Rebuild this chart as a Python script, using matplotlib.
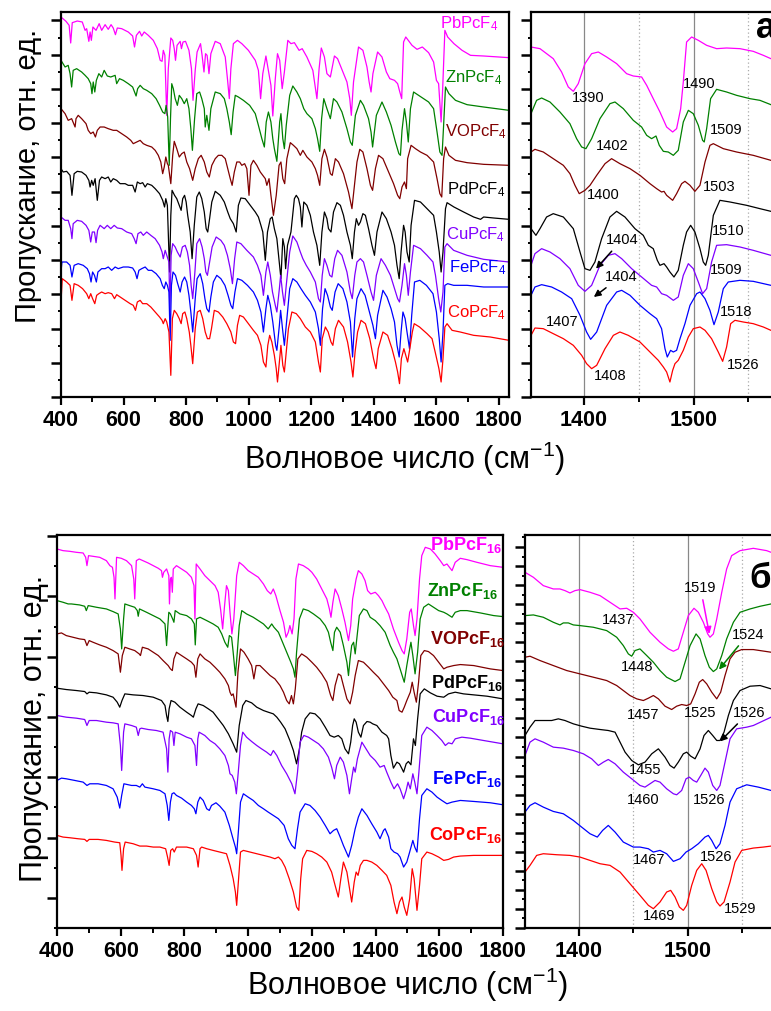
"""IR spectra of MPcF4 / MPcF16 films: full range and zoom on 1350-1580 cm-1"""

import matplotlib
matplotlib.use('Agg')
import matplotlib.pyplot as plt
from matplotlib import font_manager
from matplotlib.ticker import MultipleLocator, NullFormatter

plt.rcParams['font.family'] = ['Liberation Sans', 'DejaVu Sans']
plt.rcParams['mathtext.fontset'] = 'custom'
plt.rcParams['mathtext.rm'] = 'Liberation Sans'
plt.rcParams['mathtext.it'] = 'Liberation Sans:italic'
plt.rcParams['mathtext.bf'] = 'Liberation Sans:bold'

# series order: Pb, Zn, VO, Pd, Cu, Fe, Co
names = ['PbPcF', 'ZnPcF', 'VOPcF', 'PdPcF', 'CuPcF', 'FePcF', 'CoPcF']
colors = ['#FF00FF', '#008000', '#800000', '#000000', '#8000FF', '#0000FF', '#FF0000']

# ---------------- MPcF4, 400-1830 cm-1 (wavenumber, transmittance a.u.) ----------------
pb4 = [(400,114.0),(416,112.7),(426,111.5),(431,106.2),(436,112.3),(452,112.8),(468,112.5),(477,110.0),(482,110.5),(489,106.7),(493,109.5),(497,107.0),(502,111.0),(512,110.0),(522,112.0),(530,110.0),(541,111.7),(551,110.3),(560,111.7),(567,110.7),(574,108.7),(580,110.7),(594,110.5),(615,109.5),(629,108.3),(635,105.0),(641,108.5),(651,109.7),(658,108.3),(666,109.5),(679,108.5),(695,107.0),(708,104.5),(717,101.0),(723,100.7),(727,104.0),(732,102.5),(738,84.5),(743,98.5),(751,107.7),(757,107.0),(762,104.5),(766,101.0),(771,105.5),(781,106.7),(785,104.5),(790,106.5),(798,106.7),(809,104.0),(817,98.5),(822,89.0),(829,98.0),(835,103.5),(846,106.0),(851,102.5),(857,97.5),(862,103.0),(867,102.5),(873,97.0),(879,103.0),(893,106.7),(909,106.0),(925,102.0),(932,95.5),(938,89.5),(943,98.5),(951,106.0),(964,107.0),(978,106.0),(999,104.0),(1021,101.0),(1031,98.0),(1038,89.5),(1045,97.0),(1055,102.3),(1062,98.5),(1071,93.5),(1077,84.3),(1085,95.5),(1092,103.0),(1099,101.0),(1107,92.5),(1114,97.5),(1125,107.0),(1135,106.0),(1146,106.3),(1161,104.0),(1171,104.5),(1186,102.0),(1205,98.0),(1212,93.5),(1218,89.5),(1225,98.5),(1232,104.7),(1242,102.0),(1250,97.0),(1261,96.0),(1274,102.3),(1284,101.5),(1301,97.5),(1314,94.5),(1323,89.5),(1328,84.5),(1335,94.5),(1351,105.0),(1365,104.0),(1378,99.0),(1385,94.5),(1391,91.5),(1397,97.0),(1412,103.5),(1426,102.0),(1440,97.5),(1451,95.5),(1466,95.0),(1476,94.0),(1483,91.5),(1489,89.5),(1495,106.5),(1502,108.0),(1522,105.5),(1538,104.3),(1555,105.0),(1575,103.3),(1591,100.5),(1600,95.0),(1607,94.0),(1615,82.5),(1620,92.5),(1627,110.0),(1636,108.0),(1656,106.0),(1682,104.0),(1709,102.5),(1751,102.3),(1832,101.8)]
zn4 = [(400,101.0),(413,99.0),(423,99.5),(429,97.0),(434,93.0),(439,98.0),(450,98.5),(466,97.5),(477,96.5),(487,95.5),(495,94.0),(499,91.0),(503,94.5),(508,91.5),(513,95.0),(521,97.0),(530,96.0),(538,98.0),(548,96.3),(559,96.0),(573,96.5),(578,94.0),(587,95.5),(599,95.0),(615,94.0),(629,93.0),(640,90.3),(645,92.5),(653,93.5),(663,92.5),(674,92.0),(690,91.0),(704,89.5),(715,87.5),(725,85.5),(732,85.0),(736,87.5),(741,84.0),(746,69.5),(750,83.5),(754,94.0),(759,92.5),(765,89.5),(772,87.5),(778,90.5),(786,89.5),(794,88.0),(802,89.5),(809,86.5),(815,80.5),(820,74.0),(827,83.5),(834,91.0),(843,91.5),(850,89.5),(858,86.5),(861,81.0),(866,84.5),(873,80.0),(879,86.5),(893,91.5),(909,91.0),(922,89.5),(930,86.5),(938,82.5),(944,78.7),(950,85.5),(957,90.5),(967,90.0),(983,89.0),(1003,87.5),(1021,85.0),(1031,81.5),(1042,77.5),(1050,75.0),(1056,82.5),(1063,85.5),(1071,82.5),(1077,77.5),(1082,74.5),(1090,70.7),(1099,82.5),(1103,85.0),(1109,77.5),(1114,74.5),(1120,81.5),(1131,90.5),(1141,93.3),(1154,91.5),(1165,89.5),(1176,86.5),(1186,85.0),(1202,83.5),(1213,80.5),(1220,77.5),(1227,73.7),(1233,83.5),(1240,89.5),(1250,86.5),(1261,83.5),(1271,89.5),(1282,88.5),(1298,85.5),(1314,80.5),(1325,76.5),(1331,75.5),(1341,84.5),(1357,89.0),(1367,87.5),(1383,83.5),(1391,79.5),(1396,75.0),(1408,84.5),(1426,88.5),(1440,85.5),(1455,81.5),(1469,76.5),(1480,73.0),(1485,72.5),(1490,80.0),(1498,86.5),(1504,82.5),(1510,76.5),(1517,86.5),(1527,91.5),(1543,90.5),(1559,89.5),(1575,88.5),(1591,86.5),(1602,79.5),(1611,73.5),(1618,72.5),(1623,81.5),(1629,93.0),(1640,91.0),(1661,89.0),(1698,87.7),(1751,87.0),(1832,86.0)]
vo4 = [(400,86.5),(413,85.0),(423,83.0),(434,83.5),(445,81.0),(448,83.5),(455,84.5),(466,83.5),(480,82.0),(487,80.0),(495,79.0),(503,79.5),(510,78.0),(516,80.0),(525,81.0),(538,81.0),(551,80.5),(567,80.0),(578,80.0),(594,79.0),(610,78.0),(623,77.0),(631,76.0),(642,76.5),(653,77.0),(663,76.0),(674,75.5),(690,75.0),(701,74.0),(711,72.5),(719,70.5),(725,67.0),(730,69.0),(735,72.0),(740,70.0),(743,69.5),(751,64.0),(757,72.5),(762,76.7),(770,74.5),(778,72.0),(786,73.0),(794,73.5),(802,70.5),(811,68.5),(821,65.0),(829,68.5),(839,71.5),(848,72.5),(858,70.5),(866,67.5),(874,66.0),(882,69.5),(893,71.5),(903,72.5),(914,72.5),(925,71.5),(933,68.5),(941,65.5),(947,63.5),(954,67.5),(962,70.5),(971,70.5),(978,69.5),(987,70.0),(994,68.5),(1001,60.5),(1007,69.5),(1015,71.0),(1026,69.5),(1037,67.5),(1053,65.5),(1058,63.5),(1065,65.5),(1071,60.5),(1079,54.5),(1088,60.5),(1097,69.5),(1103,70.5),(1109,65.5),(1115,64.0),(1122,71.5),(1133,76.3),(1143,75.5),(1154,74.5),(1165,72.5),(1173,74.0),(1186,72.0),(1202,70.5),(1213,68.5),(1220,66.5),(1227,63.5),(1234,71.5),(1242,74.3),(1250,72.0),(1261,67.0),(1267,66.5),(1277,71.5),(1287,70.5),(1303,67.0),(1319,61.5),(1330,56.5),(1338,63.5),(1346,70.5),(1355,74.3),(1365,73.5),(1378,68.5),(1389,63.5),(1396,62.0),(1405,68.5),(1415,72.5),(1429,71.5),(1447,67.5),(1463,64.0),(1476,60.5),(1483,59.5),(1490,63.0),(1498,64.5),(1504,62.5),(1508,71.5),(1519,75.5),(1533,74.5),(1549,73.5),(1570,72.5),(1591,70.5),(1602,65.5),(1611,61.0),(1617,60.0),(1623,71.5),(1629,75.0),(1640,72.5),(1661,71.0),(1698,70.3),(1751,69.8),(1832,69.5)]
pd4 = [(400,68.5),(407,67.5),(418,67.7),(429,66.5),(435,60.5),(442,67.0),(452,67.7),(466,67.5),(480,66.5),(489,65.0),(493,63.0),(498,65.0),(503,63.5),(509,65.5),(516,59.0),(523,65.0),(530,66.0),(541,65.5),(551,66.0),(559,64.5),(567,65.5),(578,65.0),(589,64.0),(605,64.0),(615,63.5),(629,63.5),(637,61.5),(644,64.5),(653,64.0),(661,64.3),(669,63.0),(676,64.0),(690,63.5),(701,62.5),(715,61.0),(725,59.0),(731,57.0),(735,59.5),(740,57.5),(747,37.5),(751,54.5),(755,62.0),(763,60.5),(770,59.5),(778,57.5),(784,56.0),(789,59.5),(795,60.5),(800,58.5),(805,54.5),(813,49.5),(819,41.5),(826,51.5),(834,60.0),(842,61.5),(850,59.5),(858,55.5),(864,50.5),(869,49.5),(875,53.5),(882,58.5),(893,61.7),(909,60.5),(922,58.5),(933,55.5),(941,53.5),(951,52.0),(960,49.5),(967,57.5),(975,59.7),(989,59.5),(1005,57.5),(1021,55.5),(1031,54.0),(1039,51.5),(1045,49.5),(1053,41.0),(1060,49.5),(1069,53.5),(1075,54.0),(1082,50.5),(1090,47.5),(1097,41.0),(1103,35.5),(1109,47.5),(1114,45.0),(1118,38.5),(1124,45.5),(1135,49.5),(1146,59.5),(1152,60.5),(1159,59.5),(1165,57.0),(1170,51.0),(1176,58.5),(1186,57.5),(1197,54.5),(1207,49.5),(1218,45.5),(1227,39.5),(1234,49.5),(1242,55.5),(1250,53.5),(1255,50.5),(1263,49.5),(1271,55.5),(1282,58.3),(1293,57.5),(1303,54.5),(1314,49.5),(1325,45.5),(1331,41.5),(1338,49.5),(1344,53.5),(1351,51.5),(1357,52.5),(1365,55.0),(1373,54.5),(1383,50.5),(1394,45.5),(1402,42.5),(1410,49.5),(1426,55.5),(1440,53.5),(1455,49.5),(1466,45.5),(1474,39.5),(1481,35.5),(1487,43.5),(1495,51.5),(1500,49.5),(1506,43.5),(1513,40.5),(1519,51.5),(1530,59.0),(1549,58.5),(1570,56.5),(1591,54.5),(1600,49.5),(1609,43.5),(1615,37.5),(1621,43.5),(1629,56.5),(1634,58.3),(1656,57.0),(1687,55.5),(1719,54.0),(1741,53.3),(1751,54.0),(1783,53.7),(1832,53.3)]
cu4 = [(400,54.0),(413,53.0),(423,53.0),(431,50.5),(435,47.5),(439,52.0),(452,53.0),(466,52.7),(480,51.5),(489,50.0),(495,46.5),(500,49.5),(507,49.5),(512,46.3),(517,50.0),(525,51.5),(538,50.5),(548,51.5),(559,50.5),(570,51.5),(580,50.7),(594,50.5),(610,49.5),(626,49.0),(634,47.5),(640,46.0),(646,49.0),(655,49.5),(663,48.5),(674,49.5),(687,48.5),(701,47.5),(715,45.5),(723,43.5),(727,41.5),(733,44.0),(738,42.5),(745,40.5),(748,25.5),(752,42.5),(757,46.0),(765,45.0),(772,43.5),(781,42.0),(788,45.0),(797,45.5),(804,43.5),(811,39.5),(816,33.5),(821,29.5),(828,37.5),(834,46.0),(843,47.5),(851,45.0),(858,41.5),(863,37.5),(868,36.5),(875,40.5),(883,45.0),(896,48.0),(911,47.0),(922,45.5),(932,42.5),(941,38.5),(948,34.0),(955,41.5),(962,46.5),(975,46.0),(994,44.0),(1015,42.0),(1028,39.5),(1039,36.5),(1047,30.5),(1055,37.5),(1061,40.5),(1069,36.5),(1076,31.5),(1085,27.5),(1090,25.5),(1098,32.5),(1102,36.5),(1108,31.5),(1114,27.5),(1120,33.5),(1131,43.5),(1141,48.3),(1154,46.5),(1165,43.5),(1173,41.5),(1184,39.5),(1197,37.5),(1213,34.5),(1223,29.5),(1229,28.5),(1235,36.5),(1242,41.5),(1250,39.5),(1259,36.5),(1266,36.0),(1275,41.5),(1284,44.0),(1298,42.5),(1314,37.5),(1325,31.5),(1331,29.5),(1339,36.5),(1346,40.5),(1357,41.5),(1367,40.5),(1378,36.5),(1391,31.5),(1399,29.0),(1408,36.5),(1423,41.5),(1437,39.5),(1453,36.5),(1466,32.5),(1476,29.5),(1482,28.5),(1490,33.5),(1498,40.0),(1504,36.5),(1510,30.5),(1517,37.5),(1527,45.5),(1549,44.5),(1570,42.5),(1589,40.5),(1597,36.5),(1607,29.5),(1614,25.5),(1621,31.5),(1627,45.0),(1634,46.0),(1655,44.0),(1698,42.5),(1751,41.3),(1832,40.5)]
fe4 = [(400,37.5),(403,40.5),(418,40.5),(429,39.5),(435,36.0),(442,39.5),(455,40.0),(471,39.5),(484,38.5),(491,37.0),(496,34.5),(501,37.5),(507,36.5),(513,34.5),(518,37.5),(530,38.5),(541,38.5),(551,39.0),(562,38.0),(573,39.0),(583,38.5),(599,39.0),(615,39.0),(629,38.7),(637,37.5),(643,35.5),(649,38.0),(658,38.5),(669,39.0),(679,38.0),(690,38.0),(704,37.0),(717,35.5),(724,33.5),(730,32.5),(735,34.5),(740,33.5),(745,31.5),(749,17.0),(753,33.5),(758,37.5),(766,36.5),(773,34.0),(781,31.5),(787,34.5),(795,36.0),(802,34.5),(809,30.5),(815,25.5),(821,19.5),(829,29.5),(835,35.5),(845,37.0),(853,34.0),(860,29.5),(866,26.5),(873,25.5),(879,30.0),(887,34.5),(898,36.5),(911,35.5),(924,33.5),(934,30.5),(943,27.5),(949,26.5),(956,31.5),(964,35.5),(978,35.0),(996,33.5),(1015,31.5),(1028,29.0),(1039,25.5),(1047,19.5),(1055,26.5),(1061,30.5),(1069,27.5),(1077,22.5),(1086,15.5),(1090,14.0),(1098,21.5),(1102,26.0),(1108,20.5),(1114,15.5),(1122,23.5),(1131,32.5),(1141,35.5),(1154,34.5),(1167,32.5),(1181,30.5),(1197,28.5),(1213,25.5),(1223,20.5),(1229,15.5),(1236,26.5),(1244,32.5),(1252,30.5),(1261,27.0),(1267,26.0),(1276,31.5),(1286,34.0),(1301,32.5),(1314,28.5),(1325,22.5),(1332,12.0),(1339,23.5),(1346,29.5),(1359,32.5),(1372,30.5),(1383,26.5),(1397,21.5),(1405,17.5),(1412,24.5),(1429,32.0),(1442,30.0),(1455,26.5),(1466,22.5),(1474,15.5),(1481,12.0),(1487,19.5),(1493,25.5),(1500,23.5),(1506,19.5),(1514,14.5),(1521,24.5),(1530,34.5),(1547,35.0),(1568,33.5),(1589,31.0),(1600,25.5),(1609,17.5),(1615,10.5),(1621,19.5),(1627,33.5),(1636,34.0),(1655,33.5),(1698,33.5),(1751,33.0),(1832,33.0)]
co4 = [(400,28.5),(404,35.5),(418,34.5),(429,33.5),(435,29.0),(442,34.0),(455,33.5),(469,32.5),(482,31.0),(489,29.5),(495,31.0),(501,29.5),(508,28.0),(514,30.5),(521,31.0),(530,31.5),(541,31.0),(551,31.3),(562,31.0),(571,29.5),(578,30.7),(589,30.0),(605,29.0),(621,28.0),(631,27.5),(638,26.0),(644,28.5),(653,29.0),(661,28.0),(674,28.0),(687,27.0),(701,25.5),(715,24.0),(723,23.0),(727,22.0),(733,23.5),(738,22.5),(745,19.5),(751,6.5),(756,23.5),(762,26.0),(770,25.0),(778,23.5),(784,22.0),(789,25.0),(796,25.5),(802,23.5),(810,19.5),(815,15.5),(821,10.0),(829,20.5),(836,25.5),(845,26.0),(853,23.5),(861,19.5),(868,17.5),(875,17.5),(881,20.5),(890,26.0),(903,25.5),(917,24.0),(930,22.0),(943,19.5),(951,16.5),(958,16.0),(964,21.5),(971,24.5),(983,24.0),(999,22.0),(1015,20.0),(1028,18.5),(1039,15.5),(1047,10.5),(1055,9.0),(1061,15.5),(1067,18.5),(1074,16.5),(1082,12.5),(1088,8.5),(1092,4.5),(1099,11.5),(1103,15.5),(1109,9.5),(1114,7.5),(1120,13.5),(1127,20.5),(1138,25.5),(1152,25.0),(1165,23.5),(1181,21.0),(1197,19.5),(1213,16.5),(1223,10.5),(1229,7.5),(1235,17.5),(1245,21.0),(1254,19.5),(1263,16.5),(1269,15.5),(1277,20.5),(1287,23.0),(1303,21.0),(1316,16.5),(1327,10.5),(1333,6.0),(1340,13.5),(1348,19.5),(1359,23.0),(1373,22.0),(1387,17.5),(1399,11.5),(1407,8.5),(1414,14.5),(1429,19.5),(1444,18.5),(1458,14.5),(1469,10.5),(1476,7.5),(1482,4.0),(1488,11.5),(1496,14.5),(1502,12.5),(1508,10.5),(1515,14.5),(1523,19.5),(1529,22.0),(1546,21.0),(1570,19.0),(1586,17.5),(1596,13.5),(1608,8.5),(1615,4.5),(1621,11.5),(1627,21.0),(1634,22.0),(1650,20.0),(1676,19.5),(1719,18.5),(1772,18.0),(1832,17.0)]

# ---------------- MPcF4, zoom 1350-1570 cm-1 ----------------
pb4_z = [(1351.7,105.0),(1359.9,104.5),(1372.0,101.5),(1379.6,97.5),(1385.7,93.0),(1390.3,91.7),(1394.8,94.0),(1400.9,100.0),(1407.0,103.0),(1413.1,103.5),(1420.7,102.0),(1429.8,100.0),(1438.9,97.0),(1445.0,96.3),(1452.6,96.0),(1457.2,93.5),(1463.2,89.5),(1469.3,85.5),(1475.4,81.0),(1480.9,79.5),(1484.5,80.5),(1488.2,86.5),(1490.6,94.5),(1493.6,106.5),(1498.2,108.0),(1504.3,107.0),(1511.9,105.5),(1521.0,104.5),(1530.1,104.7),(1542.3,104.5),(1554.4,103.7),(1563.6,102.5),(1570.5,101.5)]
zn4_z = [(1351.7,85.0),(1356.8,89.0),(1361.4,89.7),(1369.0,88.5),(1378.1,85.5),(1387.2,82.0),(1393.3,77.5),(1397.9,75.0),(1401.8,74.5),(1407.0,77.5),(1414.6,83.5),(1423.7,88.0),(1428.3,88.5),(1435.9,86.5),(1445.0,83.0),(1452.6,81.0),(1457.2,78.5),(1461.7,77.5),(1465.7,78.3),(1468.7,75.5),(1472.4,73.7),(1476.9,73.5),(1481.5,72.5),(1486.0,74.0),(1490.6,82.5),(1495.2,86.0),(1499.7,85.0),(1504.3,81.5),(1508.2,77.0),(1509.7,76.5),(1511.9,80.5),(1515.5,89.5),(1521.0,92.3),(1530.1,91.5),(1539.2,90.5),(1551.4,89.5),(1560.5,89.0),(1570.5,87.7)]
vo4_z = [(1351.7,73.5),(1355.3,74.3),(1362.9,73.5),(1372.0,71.5),(1381.2,69.5),(1387.2,67.0),(1391.8,63.5),(1395.7,61.0),(1400.9,62.0),(1405.5,63.5),(1411.6,66.5),(1419.2,70.0),(1425.2,71.5),(1432.8,70.0),(1442.0,68.5),(1451.1,66.5),(1460.2,64.0),(1466.3,62.5),(1470.8,61.5),(1473.0,61.7),(1475.4,60.5),(1480.9,59.0),(1484.5,61.0),(1489.1,64.0),(1492.1,64.7),(1496.7,63.5),(1501.2,61.7),(1505.8,63.5),(1510.4,70.5),(1514.9,75.5),(1518.0,76.0),(1527.1,74.5),(1539.2,73.5),(1554.4,72.5),(1570.5,71.0)]
pd4_z = [(1351.7,50.5),(1356.2,48.5),(1359.9,50.5),(1365.9,54.0),(1372.0,55.0),(1381.2,54.0),(1390.3,50.5),(1396.4,43.5),(1400.9,38.5),(1405.5,38.0),(1410.0,40.5),(1416.1,47.5),(1423.7,54.0),(1429.8,55.7),(1437.4,54.0),(1446.5,50.5),(1454.1,48.5),(1458.7,45.5),(1463.2,44.5),(1466.9,41.0),(1469.3,39.5),(1473.0,40.0),(1475.4,39.0),(1478.4,37.5),(1482.1,36.0),(1486.0,38.0),(1490.6,45.5),(1493.6,49.5),(1497.3,51.5),(1501.2,49.5),(1505.8,44.5),(1508.8,40.5),(1511.0,39.5),(1513.4,42.5),(1518.0,54.5),(1524.0,59.0),(1533.2,58.5),(1548.4,57.5),(1560.5,56.5),(1570.5,55.7)]
cu4_z = [(1351.7,39.5),(1355.3,43.0),(1361.4,44.5),(1369.0,43.5),(1378.1,41.5),(1387.2,38.5),(1394.8,33.5),(1400.9,31.7),(1407.0,33.5),(1414.6,39.5),(1422.2,42.5),(1428.3,43.0),(1434.4,41.5),(1443.5,38.5),(1452.6,36.0),(1461.7,33.5),(1466.3,33.0),(1470.8,31.0),(1475.4,30.5),(1481.5,29.0),(1486.0,30.0),(1490.6,36.5),(1495.2,40.0),(1499.7,38.5),(1504.3,34.5),(1508.2,31.0),(1511.9,32.5),(1516.4,40.5),(1521.0,45.5),(1530.1,45.7),(1542.3,45.0),(1554.4,44.0),(1570.5,42.5)]
fe4_z = [(1351.7,30.5),(1355.3,33.0),(1361.4,33.7),(1370.5,33.0),(1379.6,31.5),(1388.8,29.5),(1396.4,24.5),(1402.4,19.5),(1406.1,17.3),(1411.6,19.5),(1420.7,27.5),(1429.8,31.5),(1434.4,32.0),(1442.0,30.5),(1451.1,27.5),(1460.2,25.0),(1466.3,23.5),(1470.8,20.5),(1473.9,14.5),(1476.0,12.0),(1479.0,14.0),(1481.5,13.5),(1484.5,14.0),(1487.6,17.5),(1492.1,22.0),(1496.7,27.5),(1502.8,31.0),(1505.8,31.5),(1510.4,29.5),(1514.9,26.0),(1518.6,21.7),(1522.5,25.5),(1527.1,32.5),(1531.6,34.5),(1542.3,35.0),(1554.4,34.7),(1570.5,33.5)]
co4_z = [(1351.7,18.5),(1355.3,20.7),(1362.9,20.5),(1372.0,19.0),(1381.2,17.5),(1390.3,15.5),(1397.9,12.5),(1402.4,10.0),(1407.0,8.5),(1411.6,9.5),(1419.2,14.5),(1426.8,18.5),(1432.8,19.5),(1440.4,18.5),(1451.1,16.5),(1460.2,13.5),(1467.8,11.0),(1472.4,9.0),(1475.4,7.5),(1478.4,4.5),(1480.9,8.0),(1483.0,10.0),(1486.0,11.0),(1490.6,14.0),(1495.2,18.0),(1499.7,20.5),(1505.8,21.0),(1510.4,20.0),(1516.4,17.5),(1522.5,13.5),(1526.5,10.7),(1530.1,15.0),(1533.8,22.0),(1537.7,23.0),(1545.3,22.5),(1554.4,22.0),(1563.6,21.0),(1570.5,20.0)]

# ---------------- MPcF16, 400-1800 cm-1 ----------------
pb16 = [(400,113.8),(419,113.3),(440,113.1),(461,112.8),(482,112.6),(490,111.3),(494,108.8),(499,111.8),(513,111.6),(534,111.3),(555,110.3),(566,108.8),(574,108.3),(579,105.3),(582,98.8),(587,111.3),(602,111.0),(618,110.3),(634,108.8),(641,104.8),(644,98.8),(649,110.3),(658,110.8),(670,110.3),(686,109.6),(702,108.8),(718,108.0),(728,107.3),(731,105.3),(735,106.8),(744,107.8),(751,105.8),(753,97.3),(756,104.8),(759,105.3),(762,100.8),(765,107.8),(775,108.8),(791,107.8),(807,106.8),(822,105.3),(830,102.8),(833,92.8),(837,109.3),(849,107.8),(864,105.8),(880,104.3),(896,102.8),(906,100.8),(914,95.3),(920,89.8),(926,96.8),(932,102.8),(938,101.3),(943,94.8),(949,88.3),(955,92.8),(964,105.8),(972,109.8),(985,108.8),(1000,107.3),(1016,106.3),(1032,105.3),(1048,103.3),(1060,101.3),(1071,100.3),(1079,101.8),(1087,99.8),(1100,95.3),(1111,91.8),(1119,87.3),(1126,88.8),(1131,90.8),(1138,88.3),(1144,92.8),(1150,104.8),(1158,109.3),(1173,108.8),(1189,107.8),(1200,106.8),(1215,104.8),(1231,101.8),(1247,98.8),(1255,95.8),(1260,93.3),(1266,97.8),(1273,101.8),(1283,99.8),(1294,95.8),(1304,91.8),(1315,86.3),(1322,90.8),(1328,98.8),(1339,104.8),(1346,107.3),(1357,106.3),(1367,104.3),(1375,101.3),(1385,100.3),(1399,100.8),(1409,99.8),(1420,98.3),(1430,96.3),(1441,94.3),(1456,89.8),(1472,85.8),(1483,83.3),(1490,82.3),(1498,86.8),(1507,94.8),(1512,95.8),(1519,90.8),(1524,87.8),(1530,92.8),(1538,104.8),(1545,111.8),(1556,114.3),(1572,113.8),(1587,112.3),(1603,110.3),(1614,108.8),(1624,109.3),(1640,107.3),(1650,109.8),(1666,111.0),(1687,110.6),(1718,109.8),(1760,108.8),(1800,108.3)]
zn16 = [(400,98.3),(419,97.8),(435,97.3),(445,97.3),(471,97.0),(487,96.6),(492,95.3),(498,96.8),(524,96.3),(555,95.8),(576,95.0),(592,94.3),(599,89.8),(603,83.8),(609,92.8),(613,97.3),(628,96.8),(644,96.3),(652,95.3),(655,93.6),(659,95.8),(681,94.8),(702,93.8),(723,92.8),(739,91.3),(744,84.8),(748,90.8),(751,94.8),(756,94.3),(763,92.8),(767,91.8),(771,95.3),(786,94.3),(807,93.8),(822,92.8),(831,91.3),(834,85.0),(838,92.8),(849,93.3),(870,92.3),(890,91.3),(906,90.3),(917,88.3),(927,85.8),(936,84.3),(941,87.8),(948,87.3),(953,82.8),(960,75.8),(966,82.8),(972,90.8),(980,95.3),(995,94.3),(1016,93.3),(1032,92.3),(1048,91.3),(1063,89.8),(1074,91.3),(1081,90.3),(1095,88.8),(1108,85.8),(1121,82.8),(1134,79.8),(1142,77.8),(1147,75.3),(1152,82.8),(1161,92.8),(1173,95.8),(1189,95.3),(1205,94.3),(1226,92.8),(1242,90.8),(1252,88.8),(1259,85.8),(1266,83.3),(1271,88.8),(1278,90.3),(1289,88.8),(1299,84.8),(1310,79.8),(1315,75.8),(1320,80.8),(1325,84.8),(1331,85.8),(1336,82.3),(1341,86.8),(1349,93.8),(1362,95.8),(1373,95.3),(1383,93.3),(1399,92.3),(1414,90.8),(1430,88.8),(1446,84.8),(1456,82.8),(1467,80.8),(1477,77.8),(1490,73.8),(1498,78.8),(1507,83.8),(1511,85.8),(1517,81.8),(1524,76.3),(1532,82.8),(1540,92.8),(1551,96.3),(1566,97.3),(1582,96.3),(1598,95.3),(1614,94.8),(1624,94.3),(1640,93.3),(1650,94.8),(1666,95.3),(1687,95.3),(1729,94.6),(1771,93.8),(1800,93.5)]
vo16 = [(400,88.3),(414,88.6),(429,87.8),(450,87.3),(471,86.8),(487,86.6),(494,84.8),(501,86.3),(513,85.8),(534,85.0),(555,84.3),(576,83.3),(592,82.3),(599,76.8),(605,81.8),(613,84.3),(628,83.8),(644,83.3),(658,82.3),(662,81.8),(668,84.3),(686,83.8),(702,82.8),(718,81.8),(733,80.3),(749,78.8),(756,77.8),(762,77.3),(767,80.8),(775,82.8),(791,81.8),(807,80.8),(822,79.8),(831,78.8),(836,75.3),(842,80.8),(849,82.3),(864,80.8),(880,79.8),(896,78.3),(911,76.8),(927,74.8),(938,72.8),(943,70.8),(948,69.8),(953,70.3),(962,66.3),(968,76.8),(976,83.8),(987,82.8),(1000,80.8),(1011,78.8),(1018,74.8),(1025,78.8),(1037,78.8),(1053,77.3),(1069,75.8),(1084,74.8),(1100,72.8),(1111,70.8),(1121,68.3),(1129,67.3),(1136,69.8),(1142,67.3),(1148,71.8),(1156,80.8),(1168,82.3),(1184,81.3),(1200,79.8),(1215,78.3),(1231,76.3),(1247,73.8),(1259,69.8),(1266,68.3),(1273,72.8),(1283,76.3),(1291,75.8),(1299,72.8),(1310,68.8),(1320,67.3),(1328,70.8),(1336,75.8),(1346,80.3),(1362,79.8),(1378,78.3),(1393,76.8),(1409,75.3),(1425,73.3),(1441,71.3),(1454,69.3),(1467,68.3),(1474,65.3),(1483,64.8),(1490,66.3),(1498,68.3),(1509,70.8),(1515,73.8),(1521,70.8),(1528,67.8),(1535,73.8),(1542,81.8),(1553,83.3),(1566,83.0),(1582,81.8),(1598,79.8),(1614,77.8),(1624,78.3),(1645,78.8),(1666,79.1),(1708,78.8),(1760,77.8),(1800,77.3)]
pd16 = [(400,72.0),(429,71.6),(461,71.3),(487,71.0),(494,70.3),(501,70.8),(524,70.6),(555,70.0),(576,69.3),(589,67.8),(597,66.3),(604,68.3),(613,70.3),(639,70.0),(670,69.8),(702,69.3),(728,68.3),(739,66.8),(744,63.8),(748,62.0),(752,65.8),(758,68.3),(770,67.8),(786,66.3),(807,64.8),(822,63.8),(828,63.3),(836,65.8),(843,67.3),(859,66.8),(875,65.8),(890,64.8),(906,62.8),(922,60.8),(938,58.3),(953,55.3),(964,52.8),(972,60.8),(983,66.8),(993,68.3),(1011,67.6),(1027,66.3),(1048,65.3),(1063,64.8),(1079,64.3),(1090,63.3),(1102,61.8),(1116,59.8),(1131,56.3),(1142,53.3),(1152,49.3),(1161,53.8),(1168,58.8),(1179,62.8),(1194,64.6),(1210,64.3),(1226,62.8),(1242,60.3),(1257,57.8),(1270,57.3),(1283,57.8),(1294,56.8),(1304,53.8),(1315,52.3),(1322,55.8),(1328,60.8),(1333,62.8),(1339,61.8),(1346,58.8),(1354,57.3),(1362,60.8),(1373,62.0),(1383,61.8),(1391,61.3),(1404,60.8),(1420,58.8),(1435,57.8),(1441,56.8),(1448,51.8),(1456,48.0),(1467,49.8),(1475,49.3),(1483,47.8),(1488,46.8),(1496,49.3),(1503,50.0),(1511,49.0),(1519,56.8),(1525,54.8),(1532,62.8),(1540,70.3),(1553,71.8),(1572,70.6),(1593,69.6),(1614,69.3),(1629,70.3),(1650,70.8),(1676,70.3),(1708,70.0),(1750,69.6),(1800,68.8)]
cu16 = [(400,63.8),(429,63.3),(461,63.0),(487,62.6),(494,60.8),(501,62.3),(524,62.3),(555,61.8),(576,61.6),(592,61.3),(599,54.8),(603,47.3),(609,58.8),(613,61.3),(634,60.8),(649,60.3),(655,57.8),(660,59.8),(665,60.0),(686,59.6),(712,59.3),(733,58.8),(744,53.8),(748,46.8),(752,56.8),(756,59.3),(763,58.8),(767,54.8),(771,58.8),(786,58.3),(807,57.3),(822,56.8),(833,54.8),(838,48.8),(842,56.8),(846,58.8),(864,57.8),(880,56.3),(896,55.3),(911,53.8),(927,51.8),(938,48.8),(943,46.3),(950,45.8),(958,43.8),(963,40.3),(969,46.8),(976,54.8),(983,58.8),(995,57.3),(1011,56.0),(1027,54.8),(1042,53.8),(1058,52.8),(1071,51.8),(1079,53.3),(1090,51.8),(1105,48.8),(1121,46.3),(1137,43.3),(1147,40.3),(1155,46.8),(1163,55.8),(1175,57.8),(1189,57.3),(1205,56.3),(1221,55.3),(1236,53.8),(1252,51.3),(1262,48.3),(1271,44.8),(1278,48.8),(1289,51.3),(1299,49.8),(1310,45.8),(1318,40.3),(1325,44.8),(1331,48.3),(1336,46.8),(1343,50.8),(1357,55.8),(1370,53.8),(1383,51.8),(1399,50.3),(1414,48.3),(1427,48.8),(1435,46.8),(1448,43.8),(1458,41.8),(1469,43.3),(1477,41.8),(1488,38.8),(1496,41.3),(1502,43.8),(1509,41.8),(1517,46.3),(1523,43.8),(1530,40.3),(1536,46.8),(1545,57.8),(1561,60.3),(1577,59.3),(1593,57.8),(1608,56.3),(1619,54.8),(1629,55.6),(1640,55.3),(1650,56.8),(1671,57.3),(1697,57.0),(1739,56.3),(1800,55.3)]
fe16 = [(400,44.3),(414,45.0),(429,44.8),(456,44.3),(482,43.8),(494,42.8),(503,43.3),(529,43.3),(555,42.8),(576,41.8),(589,39.3),(597,36.0),(603,39.8),(610,43.3),(634,42.8),(649,42.8),(660,42.3),(668,43.3),(676,42.3),(702,41.8),(723,41.3),(739,40.3),(746,36.8),(751,32.3),(756,37.8),(761,40.3),(767,40.6),(775,39.8),(791,39.0),(807,37.8),(822,36.8),(831,35.8),(836,34.3),(842,37.8),(849,39.3),(859,38.3),(870,35.8),(878,35.3),(885,36.8),(899,37.6),(911,36.6),(927,34.8),(941,30.8),(951,27.3),(960,24.3),(964,22.3),(970,29.8),(976,37.8),(985,40.3),(1000,39.3),(1016,38.3),(1032,36.8),(1048,35.8),(1063,34.8),(1079,33.8),(1095,32.8),(1113,30.8),(1126,26.8),(1137,24.8),(1147,23.8),(1155,29.8),(1163,34.8),(1179,37.3),(1194,36.8),(1210,35.3),(1226,33.3),(1242,30.8),(1257,28.3),(1268,29.3),(1278,29.8),(1289,27.3),(1299,24.8),(1315,21.3),(1325,24.8),(1336,29.8),(1346,33.3),(1357,35.8),(1373,33.8),(1388,31.3),(1404,28.8),(1414,26.8),(1425,29.3),(1430,29.8),(1441,27.3),(1448,23.8),(1458,22.8),(1469,22.3),(1477,21.3),(1488,18.3),(1498,19.8),(1507,22.8),(1517,26.3),(1523,24.3),(1530,22.8),(1538,32.8),(1545,39.8),(1561,41.8),(1577,40.8),(1593,39.3),(1608,38.3),(1624,37.3),(1640,37.8),(1666,38.3),(1708,38.0),(1760,37.6),(1800,37.0)]
co16 = [(400,27.8),(419,27.3),(440,27.1),(466,26.8),(487,26.6),(494,26.0),(501,26.6),(529,26.6),(555,26.3),(581,25.8),(597,25.6),(601,21.8),(604,17.3),(609,23.8),(614,25.8),(639,25.3),(660,24.6),(681,24.6),(702,24.3),(723,24.3),(741,23.8),(747,21.3),(752,18.8),(757,23.3),(763,23.8),(768,22.8),(775,24.3),(791,24.3),(807,24.3),(828,23.8),(838,21.8),(843,18.3),(849,23.8),(854,24.3),(870,23.8),(890,23.3),(911,22.8),(932,22.3),(943,18.8),(953,14.8),(960,10.8),(964,6.8),(970,14.8),(976,22.8),(985,23.3),(1006,22.8),(1027,22.3),(1048,21.8),(1069,21.3),(1084,20.8),(1095,21.3),(1105,20.3),(1116,18.3),(1129,14.8),(1142,10.8),(1152,6.3),(1159,5.3),(1165,14.8),(1171,20.8),(1184,23.3),(1200,23.0),(1215,22.3),(1231,21.3),(1247,19.8),(1262,16.8),(1273,12.8),(1283,9.3),(1291,14.8),(1299,19.8),(1310,16.8),(1320,10.8),(1325,7.8),(1333,13.8),(1339,16.8),(1345,15.8),(1352,18.8),(1362,20.3),(1373,20.3),(1388,19.8),(1404,18.8),(1420,17.3),(1435,15.8),(1448,12.8),(1458,7.8),(1467,4.3),(1475,7.8),(1483,9.3),(1490,6.3),(1498,3.8),(1507,8.8),(1515,17.8),(1521,14.8),(1530,5.3),(1538,12.8),(1545,20.8),(1561,22.8),(1577,22.3),(1598,21.3),(1614,20.3),(1629,20.6),(1645,21.3),(1666,21.6),(1708,21.8),(1760,21.8),(1800,21.8)]

# ---------------- MPcF16, zoom 1350-1580 cm-1 ----------------
pb16_z = [(1350.4,106.8),(1358.1,105.3),(1367.2,102.8),(1376.4,101.8),(1382.5,101.8),(1387.1,101.3),(1391.7,100.6),(1396.3,101.3),(1400.9,101.6),(1410.1,100.8),(1419.3,99.8),(1428.5,97.8),(1437.7,95.8),(1443.8,96.0),(1449.9,94.8),(1456.0,92.8),(1465.2,88.8),(1474.4,85.8),(1482.1,83.8),(1486.7,83.1),(1491.2,83.8),(1495.8,88.8),(1500.4,93.8),(1505.6,96.0),(1509.6,94.8),(1514.2,91.8),(1518.2,88.3),(1520.3,87.3),(1523.4,88.3),(1526.5,92.8),(1531.1,100.8),(1535.6,107.8),(1540.2,111.8),(1547.9,113.3),(1560.1,114.0),(1572.4,113.3),(1576.4,112.8)]
zn16_z = [(1350.4,93.8),(1358.1,94.0),(1367.2,93.3),(1376.4,91.8),(1382.5,91.0),(1385.6,91.6),(1390.2,91.6),(1394.8,91.0),(1400.9,90.8),(1413.2,90.3),(1425.4,89.3),(1434.6,87.3),(1440.7,84.8),(1445.3,82.3),(1448.4,81.6),(1451.4,83.3),(1456.0,83.8),(1462.2,81.8),(1468.3,79.8),(1474.4,77.3),(1480.5,75.3),(1488.2,74.0),(1492.8,74.8),(1497.4,79.8),(1502.0,84.8),(1507.5,88.3),(1511.2,86.8),(1515.7,81.8),(1519.7,78.3),(1523.4,77.0),(1526.5,77.8),(1531.1,81.8),(1535.6,86.8),(1541.8,91.8),(1547.9,94.8),(1557.1,95.8),(1566.3,96.6),(1576.4,97.3)]
vo16_z = [(1350.4,81.3),(1355.0,81.6),(1364.2,80.3),(1376.4,78.8),(1388.7,77.3),(1400.9,76.3),(1413.2,75.3),(1425.4,74.3),(1434.6,72.8),(1440.7,71.3),(1446.8,69.8),(1453.0,68.8),(1459.1,68.3),(1463.7,69.0),(1468.3,69.8),(1472.9,68.8),(1479.0,66.6),(1485.1,65.6),(1489.7,66.6),(1494.3,67.1),(1498.9,66.8),(1502.6,67.3),(1506.6,70.3),(1510.5,73.8),(1513.6,74.6),(1517.3,73.3),(1521.9,70.8),(1526.5,68.8),(1530.1,70.8),(1534.1,75.8),(1538.7,80.8),(1543.3,82.8),(1549.4,83.6),(1560.1,83.6),(1572.4,83.0),(1576.4,82.8)]
pd16_z = [(1350.4,57.8),(1355.0,60.3),(1359.6,62.3),(1367.2,62.3),(1374.9,62.3),(1381.0,62.8),(1387.1,62.3),(1394.8,61.3),(1402.4,60.6),(1410.1,60.0),(1419.3,59.6),(1426.9,59.3),(1433.1,58.8),(1437.7,55.8),(1442.3,52.8),(1448.4,50.3),(1454.5,49.0),(1460.6,49.8),(1466.8,52.3),(1472.9,53.8),(1479.0,51.3),(1483.6,48.8),(1487.3,48.0),(1491.2,49.8),(1495.8,52.3),(1498.9,52.8),(1502.6,51.6),(1506.6,50.8),(1511.2,53.8),(1514.8,57.8),(1518.8,59.3),(1522.8,57.8),(1526.5,56.3),(1529.5,56.3),(1533.2,58.8),(1537.2,63.8),(1541.8,68.3),(1547.9,71.3),(1557.1,72.6),(1566.3,72.8),(1576.4,71.8)]
cu16_z = [(1350.4,51.8),(1355.0,55.8),(1359.6,56.8),(1367.2,55.8),(1376.4,54.3),(1385.6,54.0),(1394.8,53.3),(1404.0,52.3),(1411.6,50.8),(1417.8,48.8),(1422.4,49.8),(1426.9,50.6),(1433.1,49.3),(1440.7,46.8),(1448.4,44.8),(1456.0,42.8),(1460.6,42.3),(1465.2,43.3),(1469.8,44.3),(1474.4,43.8),(1480.5,41.8),(1486.7,40.3),(1489.7,40.0),(1494.3,41.3),(1498.3,44.8),(1501.4,45.3),(1505.0,44.3),(1508.1,43.8),(1511.8,45.8),(1515.7,48.0),(1518.8,46.8),(1522.8,42.8),(1526.5,41.3),(1529.5,42.8),(1534.1,49.8),(1538.7,56.8),(1544.8,59.8),(1554.0,60.3),(1560.1,60.8),(1576.4,63.3)]
fe16_z = [(1350.4,34.8),(1355.0,36.8),(1359.6,37.6),(1367.2,36.3),(1376.4,35.0),(1385.6,34.3),(1394.8,32.3),(1402.4,30.3),(1410.1,28.3),(1416.8,27.3),(1421.7,29.3),(1426.9,30.8),(1433.1,28.8),(1440.7,25.8),(1449.9,24.3),(1456.0,24.3),(1463.7,23.8),(1468.3,22.8),(1474.4,23.3),(1480.5,22.3),(1486.7,20.0),(1492.8,20.8),(1498.3,22.8),(1503.5,23.8),(1509.6,25.3),(1515.7,27.3),(1518.8,27.8),(1521.9,26.3),(1525.9,23.8),(1529.5,25.3),(1534.1,30.8),(1538.7,37.8),(1544.8,41.8),(1554.0,43.0),(1564.7,42.3),(1576.4,41.3)]
co16_z = [(1350.4,16.8),(1355.0,18.8),(1361.1,21.8),(1367.2,22.3),(1379.5,22.0),(1391.7,21.8),(1400.9,21.3),(1410.1,20.3),(1419.3,19.3),(1428.5,18.8),(1437.7,16.8),(1446.8,13.3),(1456.0,9.8),(1463.7,6.8),(1468.3,5.8),(1474.4,7.8),(1480.5,10.8),(1484.2,11.3),(1488.2,9.3),(1492.2,6.3),(1495.8,5.3),(1498.9,6.8),(1503.5,12.8),(1508.1,17.3),(1512.7,19.3),(1516.7,17.3),(1521.9,11.8),(1526.5,7.8),(1529.5,6.6),(1533.2,7.8),(1538.7,13.8),(1543.3,19.8),(1549.4,23.3),(1560.1,24.0),(1569.3,24.3),(1576.4,24.6)]

# peak labels (text, x, y) and arrowed ones (text, text x, text y, tip x, tip y, colour)
peaks4 = [('1390', 1404, 90.0), ('1490', 1505, 94.2), ('1402', 1426, 75.7), ('1509', 1530, 80.5),
          ('1400', 1418, 61.0), ('1503', 1523, 63.2), ('1510', 1532, 50.0), ('1509', 1530, 38.5),
          ('1407', 1380, 22.7), ('1518', 1539, 25.7), ('1408', 1424, 6.5), ('1526', 1545, 10.0)]
arrows4 = [('1404', 1435, 47.3, 1411, 38.5, 'black'), ('1404', 1434, 36.2, 1409, 30.0, 'black')]
peaks16 = [('1437', 1436, 92.8), ('1448', 1453, 78.8), ('1457', 1459, 64.3), ('1525', 1511.5, 64.8),
           ('1455', 1461, 47.6), ('1460', 1459.4, 38.8), ('1526', 1519.4, 38.8), ('1467', 1464.6, 20.6),
           ('1526', 1525.5, 21.5), ('1469', 1474, 4.0), ('1529', 1548, 6.0)]
arrows16 = [('1519', 1511.5, 102.3, 1519.7, 88.3, '#FF00FF'), ('1524', 1555.5, 88.3, 1528.6, 77.6, '#008000'),
            ('1526', 1556.2, 64.8, 1529.5, 56.0, 'black')]

# ---------------- figure ----------------
fonts = {f.name for f in font_manager.fontManager.ttflist}
if 'Liberation Sans Narrow' in fonts:
    tick_font, tick_size = 'Liberation Sans Narrow', 18
else:
    tick_font, tick_size = 'Liberation Sans', 15.5

W, H = 771, 1012
fig = plt.figure(figsize=(W / 100, H / 100), dpi=100)


def add_axes(x0, y0, x1, y1):
    return fig.add_axes([x0 / W, 1 - y1 / H, (x1 - x0) / W, (y1 - y0) / H])


def style(ax, xmaj, xmin, ymaj, ymin, yoff=0.0):
    for s in ax.spines.values():
        s.set_linewidth(1.6)
    ax.xaxis.set_major_locator(MultipleLocator(xmaj))
    ax.xaxis.set_minor_locator(MultipleLocator(xmin))
    ax.yaxis.set_major_locator(MultipleLocator(ymaj, offset=yoff))
    ax.yaxis.set_minor_locator(MultipleLocator(ymin))
    ax.yaxis.set_major_formatter(NullFormatter())
    ax.tick_params(axis='x', which='major', direction='out', length=6, width=1.6, pad=3)
    ax.tick_params(axis='x', which='minor', direction='out', length=3.5, width=1.4)
    ax.tick_params(axis='y', which='major', direction='out', length=7, width=1.8)
    ax.tick_params(axis='y', which='minor', direction='out', length=2.5, width=1.4)
    for lab in ax.get_xticklabels():
        lab.set_family(tick_font)
        lab.set_fontsize(tick_size)
        lab.set_fontweight('bold')


def draw(ax, series):
    for pts, c in zip(series, colors):
        xs, ys = zip(*pts)
        ax.plot(xs, ys, color=c, lw=0.9)


def zoom_grid(ax):
    ax.xaxis.grid(True, which='major', color='#888888', lw=0.9)
    ax.xaxis.grid(True, which='minor', color='#aaaaaa', lw=0.9, ls=(0, (1, 2)))
    ax.set_axisbelow(True)


def notes(ax, plain, arrowed):
    for t, x, y in plain:
        ax.text(x, y, t, fontsize=10.5, ha='center', va='center')
    for t, tx, ty, px, py, c in arrowed:
        ax.annotate(t, xy=(px, py), xytext=(tx, ty), fontsize=10.5, ha='center', va='center',
                    arrowprops=dict(arrowstyle='-|>', color=c, lw=1.1, mutation_scale=10,
                                    shrinkA=2, shrinkB=0))


# top-left
ax1 = add_axes(61, 13, 509, 398)
draw(ax1, [pb4, zn4, vo4, pd4, cu4, fe4, co4])
ax1.set_xlim(400, 1832)
ax1.set_ylim(0, 115.5)
style(ax1, 200, 100, 10.27, 5.135)
lab4_x = [1613, 1629, 1629, 1634, 1632, 1639, 1634]
lab4_y = [112.3, 96.0, 80.0, 62.5, 49.0, 39.0, 25.5]
for n, c, x, y in zip(names, colors, lab4_x, lab4_y):
    ax1.text(x, y, n + '$_4$', color=c, fontsize=12, ha='left', va='center')

# top-right
ax2 = add_axes(531, 13, 780, 398)
draw(ax2, [pb4_z, zn4_z, vo4_z, pd4_z, cu4_z, fe4_z, co4_z])
ax2.set_xlim(1351.7, 1578.8)
ax2.set_ylim(0, 115.5)
style(ax2, 100, 50, 10.27, 5.135)
zoom_grid(ax2)
notes(ax2, peaks4, arrows4)
ax2.text(0.905, 0.935, 'а', transform=ax2.transAxes, fontsize=26, fontweight='bold',
         ha='left', va='baseline')

# bottom-left
ax3 = add_axes(57, 536, 503, 929)
draw(ax3, [pb16, zn16, vo16, pd16, cu16, fe16, co16])
ax3.set_xlim(400, 1800)
ax3.set_ylim(0, 118)
style(ax3, 200, 100, 18.1, 9.05, yoff=9.05)
lab16_x = [1571, 1561, 1571, 1574, 1577, 1577, 1569]
lab16_y = [115.3, 101.6, 87.0, 74.0, 63.6, 45.0, 28.3]
for n, c, x, y in zip(names, colors, lab16_x, lab16_y):
    ax3.text(x, y, n + r'$_\mathbf{16}$', color=c, fontsize=13, fontweight='bold',
             ha='left', va='center')

# bottom-right
ax4 = add_axes(525, 536, 780, 929)
draw(ax4, [pb16_z, zn16_z, vo16_z, pd16_z, cu16_z, fe16_z, co16_z])
ax4.set_xlim(1350.4, 1584.6)
ax4.set_ylim(0, 118)
style(ax4, 100, 50, 5.72, 2.86)
zoom_grid(ax4)
notes(ax4, peaks16, arrows16)
ax4.text(0.88, 0.868, 'б', transform=ax4.transAxes, fontsize=25, fontweight='bold',
         ha='left', va='baseline')

# axis titles
fig.text(28 / W, 1 - 176 / H, 'Пропускание, отн. ед.', rotation=90, fontsize=21,
         ha='center', va='center')
fig.text(34 / W, 1 - 728 / H, 'Пропускание, отн. ед.', rotation=90, fontsize=22,
         ha='center', va='center')
fig.text(405 / W, 1 - 459 / H, 'Волновое число (см$^{-1}$)', fontsize=22, ha='center', va='center')
fig.text(408 / W, 1 - 985 / H, 'Волновое число (см$^{-1}$)', fontsize=22, ha='center', va='center')

fig.savefig('out.png', dpi=100)
